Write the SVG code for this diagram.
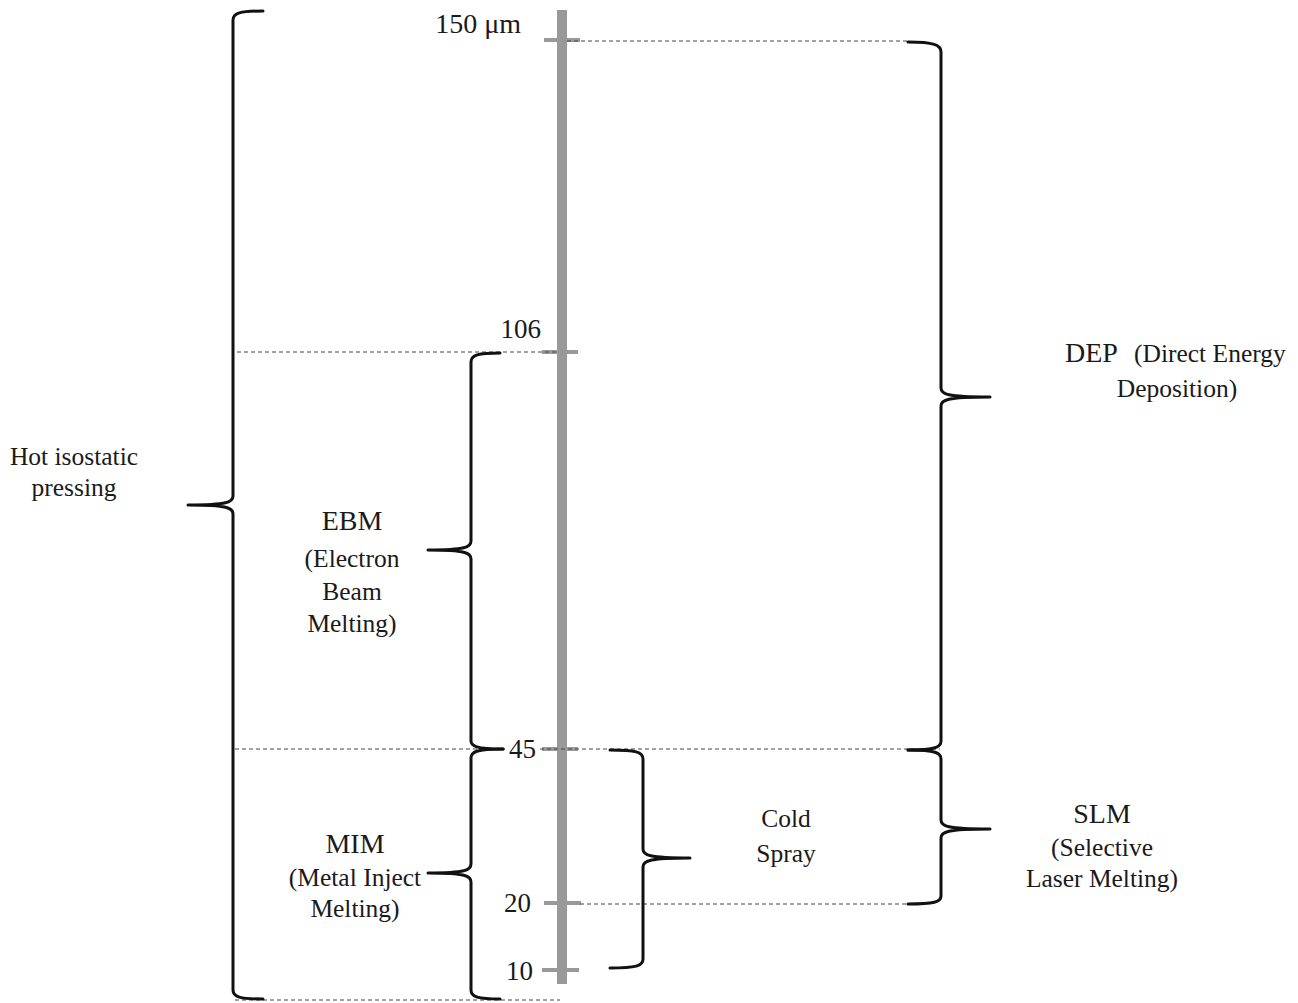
<svg xmlns="http://www.w3.org/2000/svg" width="1298" height="1003" viewBox="0 0 1298 1003">
<style>
.t{font-family:"Liberation Serif","Times New Roman",serif;font-size:25.5px;fill:#1a1a1a}
.b{font-size:28px}
.n{font-size:27px}
.m{text-anchor:middle}
.e{text-anchor:end}
.brace{fill:none;stroke:#111;stroke-width:3;stroke-linecap:round;stroke-linejoin:round}
.dash{fill:none;stroke:#444;stroke-width:1;stroke-dasharray:4 3}
.tick{stroke:#999;stroke-width:4}
</style>
<rect width="1298" height="1003" fill="#fff"/>
<g id="axis">
<rect x="557" y="10" width="10" height="974" fill="#999"/>
<line class="tick" x1="544" y1="40" x2="580" y2="40"/>
<line class="tick" x1="542" y1="352" x2="578" y2="352"/>
<line class="tick" x1="542" y1="749" x2="578" y2="749"/>
<line class="tick" x1="544" y1="903" x2="581" y2="903"/>
<line class="tick" x1="542" y1="970" x2="579" y2="970"/>
<text class="t n e" x="521" y="33"><tspan font-size="28">150 μm</tspan></text>
<text class="t n e" x="541" y="338">106</text>
<text class="t n e" x="536" y="758">45</text>
<text class="t n e" x="531" y="912">20</text>
<text class="t n e" x="533" y="980">10</text>
</g>
<g id="connectors">
<line class="dash" x1="567" y1="41" x2="908" y2="41"/>
<line class="dash" x1="237" y1="352" x2="557" y2="352"/>
<line class="dash" x1="235" y1="749" x2="505" y2="749"/>
<line class="dash" x1="540" y1="749" x2="940" y2="749"/>
<line class="dash" x1="580" y1="904" x2="910" y2="904"/>
<line class="dash" x1="235" y1="1000" x2="560" y2="1000" stroke="#888"/>
</g>
<g id="hip">
<path class="brace" d="M263 11 C240 11 233 13 233 20 L233 496 C233 502 228 505 188 505 M188 505 C228 505 233 508 233 514 L233 990 C233 997 240 999 263 999"/>
<text class="t m" x="74" y="465">Hot isostatic</text>
<text class="t m" x="74" y="496">pressing</text>
</g>
<g id="ebm">
<path class="brace" d="M500 353 C478 353 471 355 471 362 L471 541 C471 547 466 550 428 550 M428 550 C466 550 471 553 471 559 L471 741 C471 746 476 749 503 749"/>
<text class="t b m" x="352" y="530">EBM</text>
<text class="t m" x="352" y="567">(Electron</text>
<text class="t m" x="352" y="600">Beam</text>
<text class="t m" x="352" y="632">Melting)</text>
</g>
<g id="mim">
<path class="brace" d="M503 749 C476 749 471 752 471 758 L471 864 C471 870 466 873 428 873 M428 873 C466 873 471 876 471 882 L471 990 C471 997 478 999 500 999"/>
<text class="t b m" x="355" y="853">MIM</text>
<text class="t m" x="355" y="886">(Metal Inject</text>
<text class="t m" x="355" y="917">Melting)</text>
</g>
<g id="coldspray">
<path class="brace" d="M610 750 C636 750 643 752 643 759 L643 849 C643 855 648 858 690 858 M690 858 C648 858 643 861 643 867 L643 959 C643 966 636 968 610 968"/>
<text class="t m" x="786" y="827">Cold</text>
<text class="t m" x="786" y="862">Spray</text>
</g>
<g id="dep">
<path class="brace" d="M908 42 C934 42 941 45 941 52 L941 388 C941 394 946 397 990 397 M990 397 C946 397 941 400 941 406 L941 741 C941 747 936 750 908 750"/>
<text class="t" x="1065" y="362"><tspan class="b">DEP</tspan><tspan x="1134">(Direct Energy</tspan></text>
<text class="t m" x="1177" y="397">Deposition)</text>
</g>
<g id="slm">
<path class="brace" d="M908 750 C936 750 941 753 941 759 L941 820 C941 826 946 829 990 829 M990 829 C946 829 941 832 941 838 L941 896 C941 902 934 904 908 904"/>
<text class="t b m" x="1102" y="823">SLM</text>
<text class="t m" x="1102" y="856">(Selective</text>
<text class="t m" x="1102" y="887">Laser Melting)</text>
</g>
</svg>
